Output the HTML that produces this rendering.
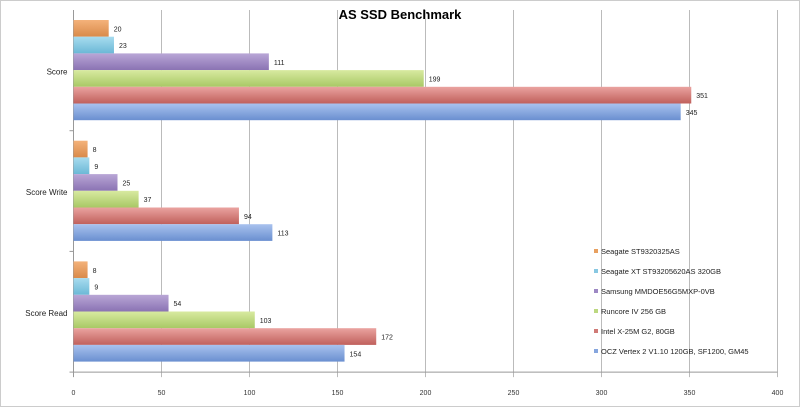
<!DOCTYPE html>
<html><head><meta charset="utf-8"><style>
body{margin:0;background:#fff;}
svg{display:block;font-family:"Liberation Sans",sans-serif;}
</style></head><body>
<svg id="c" width="800" height="407">
<defs>
<linearGradient id="g0" x1="0" y1="0" x2="0" y2="1"><stop offset="0" stop-color="#f4b27a"/><stop offset="1" stop-color="#d98a4a"/></linearGradient>
<linearGradient id="g1" x1="0" y1="0" x2="0" y2="1"><stop offset="0" stop-color="#a8dcef"/><stop offset="1" stop-color="#6bb8d6"/></linearGradient>
<linearGradient id="g2" x1="0" y1="0" x2="0" y2="1"><stop offset="0" stop-color="#b9a6d6"/><stop offset="1" stop-color="#8a73b3"/></linearGradient>
<linearGradient id="g3" x1="0" y1="0" x2="0" y2="1"><stop offset="0" stop-color="#d8eaa0"/><stop offset="1" stop-color="#a8c865"/></linearGradient>
<linearGradient id="g4" x1="0" y1="0" x2="0" y2="1"><stop offset="0" stop-color="#eaa3a0"/><stop offset="1" stop-color="#c0605c"/></linearGradient>
<linearGradient id="g5" x1="0" y1="0" x2="0" y2="1"><stop offset="0" stop-color="#a9c2ee"/><stop offset="1" stop-color="#6a8fd0"/></linearGradient>
</defs>
<rect x="0.5" y="0.5" width="799" height="406" fill="#fff" stroke="#ccc"/>
<text x="400" y="19" text-anchor="middle" font-size="13" font-weight="bold" fill="#000">AS SSD Benchmark</text>
<g id="grid"></g><g id="bars"></g><g id="legend"></g>
</svg>
<script>
const categories=["Score","Score Write","Score Read"];
const seriesNames=["Seagate ST9320325AS","Seagate XT ST93205620AS 320GB","Samsung MMDOE56G5MXP-0VB","Runcore IV 256 GB","Intel X-25M G2, 80GB","OCZ Vertex 2 V1.10 120GB, SF1200, GM45"];
const seagate=[20,8,8];
const seagateXT=[23,9,9];
const samsung=[111,25,54];
const runcore=[199,37,103];
const intel=[351,94,172];
const ocz=[345,113,154];
const ticks=[0,50,100,150,200,250,300,350,400];
const series=[seagate,seagateXT,samsung,runcore,intel,ocz];
const NS="http://www.w3.org/2000/svg";
const x0=73.5,scale=1.76,plotTop=10,groupH=120.7,plotBottom=plotTop+groupH*3;
const xs=v=>x0+v*scale;
function mk(t,a,p){const e=document.createElementNS(NS,t);for(const k in a)e.setAttribute(k,a[k]);p.appendChild(e);return e;}
const grid=document.getElementById('grid'),bars=document.getElementById('bars'),leg=document.getElementById('legend');
ticks.forEach(t=>{
 const l=mk('line',{x1:xs(t),x2:xs(t),y1:plotTop,y2:plotBottom+5,stroke:t===0?'#999':'#bbb','stroke-width':1},grid);
 
 
 const tx=mk('text',{x:xs(t),y:plotBottom+23,'text-anchor':'middle','font-size':7,fill:'#333'},grid);
 tx.textContent=t;
 
 
});
mk('line',{x1:x0,x2:xs(400),y1:plotBottom,y2:plotBottom,stroke:'#999'},grid);
categories.forEach((c,i)=>{
 const gy=plotTop+groupH*i;
 const tk=mk('line',{x1:x0-4,x2:x0,y1:gy+groupH,y2:gy+groupH,stroke:'#999'},grid);
 
 
 const lb=mk('text',{x:x0-6,y:gy+groupH/2+4,'text-anchor':'end','font-size':8,fill:'#222'},grid);
 lb.textContent=c;
 
 
 const bh=16.7;
 series.forEach((s,j)=>{
  const y=gy+10+j*bh;
  const r=mk('rect',{x:x0,y:y,width:s[i]*scale,height:bh,fill:'url(#g'+j+')'},bars);
  
  
  const v=mk('text',{x:xs(s[i])+5,y:y+bh/2+3,'font-size':7,fill:'#222'},bars);
  v.textContent=s[i];
  
  
 });
});
const cols=['#e8a060','#88c8e2','#9d88c4','#bcd880','#d07a76','#86a6de'];
seriesNames.forEach((n,j)=>{
 const y=254+j*20;
 const sw=mk('rect',{x:594,y:y-5,width:4,height:4,fill:cols[j]},leg);
 
 
 const t=mk('text',{x:601,y:y,'font-size':7.5,fill:'#222'},leg);
 t.textContent=n;
 
 
});
</script>
</body></html>
